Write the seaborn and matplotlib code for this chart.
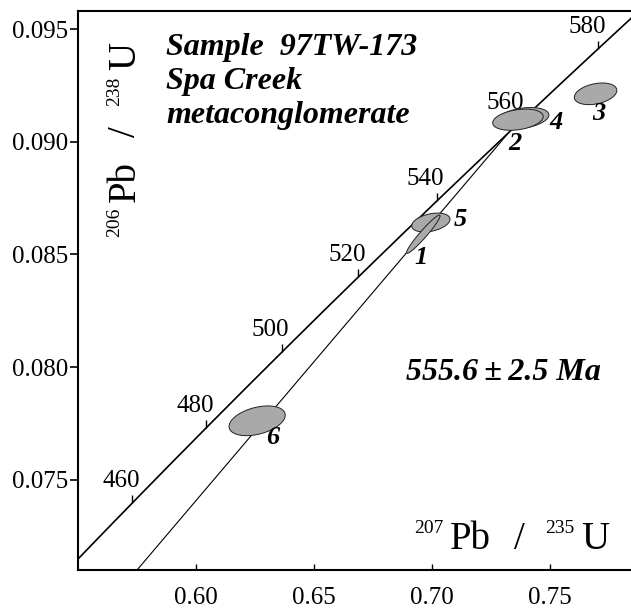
import numpy as np
import pandas as pd
import matplotlib
matplotlib.use("Agg")
import matplotlib.pyplot as plt
import matplotlib.transforms as mtransforms
from matplotlib.ticker import FormatStrFormatter
import seaborn as sns

sns.set_style("ticks")
plt.rcParams['font.family'] = ['Liberation Serif', 'DejaVu Serif']
plt.rcParams.update({"text.color": "black", "xtick.color": "black",
                     "ytick.color": "black", "axes.edgecolor": "black"})

# decay constants (1/yr)
lam238 = 1.55125e-10
lam235 = 9.8485e-10

# concordia age marks (Ma)
tick_ages = [460, 480, 500, 520, 540, 560, 580]

# discordia intercepts (Ma)
lower_age = 0.0
upper_age = 558.0
age_text = "555.6\u2009\u00b1\u20092.5 Ma"

# analyses: 207Pb/235U, 206Pb/238U, half widths, correlation (draw order)
spot_names = ['6', '5', '1', '4', '2', '3']
spot_x = [0.6259, 0.6995, 0.6963, 0.7385, 0.7364, 0.7693]
spot_y = [0.07761, 0.08642, 0.08590, 0.09106, 0.09099, 0.09214]
spot_sx = [0.0119, 0.0081, 0.0071, 0.0110, 0.0107, 0.0090]
spot_sy = [0.00066, 0.00042, 0.00085, 0.00047, 0.00047, 0.00048]
spot_rho = [0.38, 0.35, 0.96, 0.30, 0.30, 0.32]
# label offsets in points from ellipse centre
label_dx = [11, 21, -2, 24, -2, 2]
label_dy = [-12, 2, -17, -3, -17, -14]

sample_lines = ["Sample  97TW-173", "Spa Creek", "metaconglomerate"]


def concordia(t_ma):
    t = np.asarray(t_ma) * 1e6
    return np.exp(lam235 * t) - 1, np.exp(lam238 * t) - 1


fig = plt.figure(figsize=(6.31, 6.10), dpi=100)
ax = fig.add_axes([78 / 631, 40 / 610, 553 / 631, 559 / 610])

# concordia curve
ages = np.arange(420, 601, 1.0)
cx, cy = concordia(ages)
conc = pd.DataFrame({"x": cx, "y": cy})
sns.lineplot(data=conc, x="x", y="y", ax=ax, color="black", lw=1.2,
             sort=False, estimator=None, zorder=2)

# discordia
dx_, dy_ = concordia([lower_age, upper_age])
disc = pd.DataFrame({"x": dx_, "y": dy_})
sns.lineplot(data=disc, x="x", y="y", ax=ax, color="black", lw=0.8,
             sort=False, estimator=None, zorder=2)

# age marks on concordia
tx, ty = concordia(tick_ages)
ax.plot(tx, ty, linestyle="none", marker=2, markersize=5.5,
        markeredgewidth=1.0, color="black", zorder=2)
for a, x0, y0 in zip(tick_ages, tx, ty):
    ax.annotate(str(a), (x0, y0), xytext=(-8, 11.5), textcoords="offset points",
                ha="center", va="baseline", fontsize=18)

# error ellipses
theta = np.linspace(0, 2 * np.pi, 200)
for i, name in enumerate(spot_names):
    r = spot_rho[i]
    ex = spot_x[i] + spot_sx[i] * np.cos(theta)
    ey = spot_y[i] + spot_sy[i] * (r * np.cos(theta) + np.sqrt(1 - r * r) * np.sin(theta))
    ax.fill(ex, ey, facecolor="#a9a9a9", edgecolor="#222222", lw=0.7, zorder=3 + i)
    ax.annotate(name, (spot_x[i], spot_y[i]), xytext=(label_dx[i], label_dy[i]),
                textcoords="offset points", ha="center", va="center",
                fontsize=19, fontweight="bold", style="italic", zorder=10)

ax.set_xlim(0.55, 0.7843)
ax.set_ylim(0.07098, 0.09582)
ax.set_xticks([0.60, 0.65, 0.70, 0.75])
ax.set_yticks([0.075, 0.080, 0.085, 0.090, 0.095])
ax.xaxis.set_major_formatter(FormatStrFormatter("%.2f"))
ax.yaxis.set_major_formatter(FormatStrFormatter("%.3f"))
ax.tick_params(axis="y", direction="out", length=6, width=1.2, labelsize=18, pad=1)
ax.tick_params(axis="x", direction="in", length=4, width=1.0, labelsize=18, pad=12)
ax.set_xlabel("")
ax.set_ylabel("")
ax.spines["right"].set_visible(False)
for s in ["left", "bottom", "top"]:
    ax.spines[s].set_linewidth(1.5)

# text blocks
bi = dict(fontweight="bold", style="italic", fontsize=23, transform=ax.transAxes,
          va="baseline", ha="left")
for txt, yb in zip(sample_lines, [0.921, 0.860, 0.800]):
    ax.text(0.159, yb, txt, **bi)
ax.text(0.593, 0.340, age_text, **bi)

# isotope axis labels with small superscripts
fig.canvas.draw()
renderer = fig.canvas.get_renderer()


def iso_label(x, y, parts, rotation=0):
    pos = 0.0
    for s, size, rise, gap in parts:
        pos += gap
        if rotation == 0:
            off = (pos, rise)
        else:
            off = (-rise, pos)
        tr = ax.transAxes + mtransforms.Affine2D().translate(*off)
        t = ax.text(x, y, s, transform=tr, fontsize=size, rotation=rotation,
                    rotation_mode="anchor", ha="left", va="baseline")
        bb = t.get_window_extent(renderer)
        pos += bb.width if rotation == 0 else bb.height


x_parts = [("207", 14, 16, 0), ("Pb", 28, 0, 6), ("/", 28, 0, 24),
           ("235", 14, 16, 20), ("U", 28, 0, 7)]
y_parts = [("206", 14, 16, 0), ("Pb", 28, 0, 6), ("/", 28, 0, 24),
           ("238", 14, 16, 20), ("U", 28, 0, 7)]
iso_label(0.6076, 0.037, x_parts)
iso_label(0.103, 0.5957, y_parts, rotation=90)

fig.savefig("out.png", dpi=100)
